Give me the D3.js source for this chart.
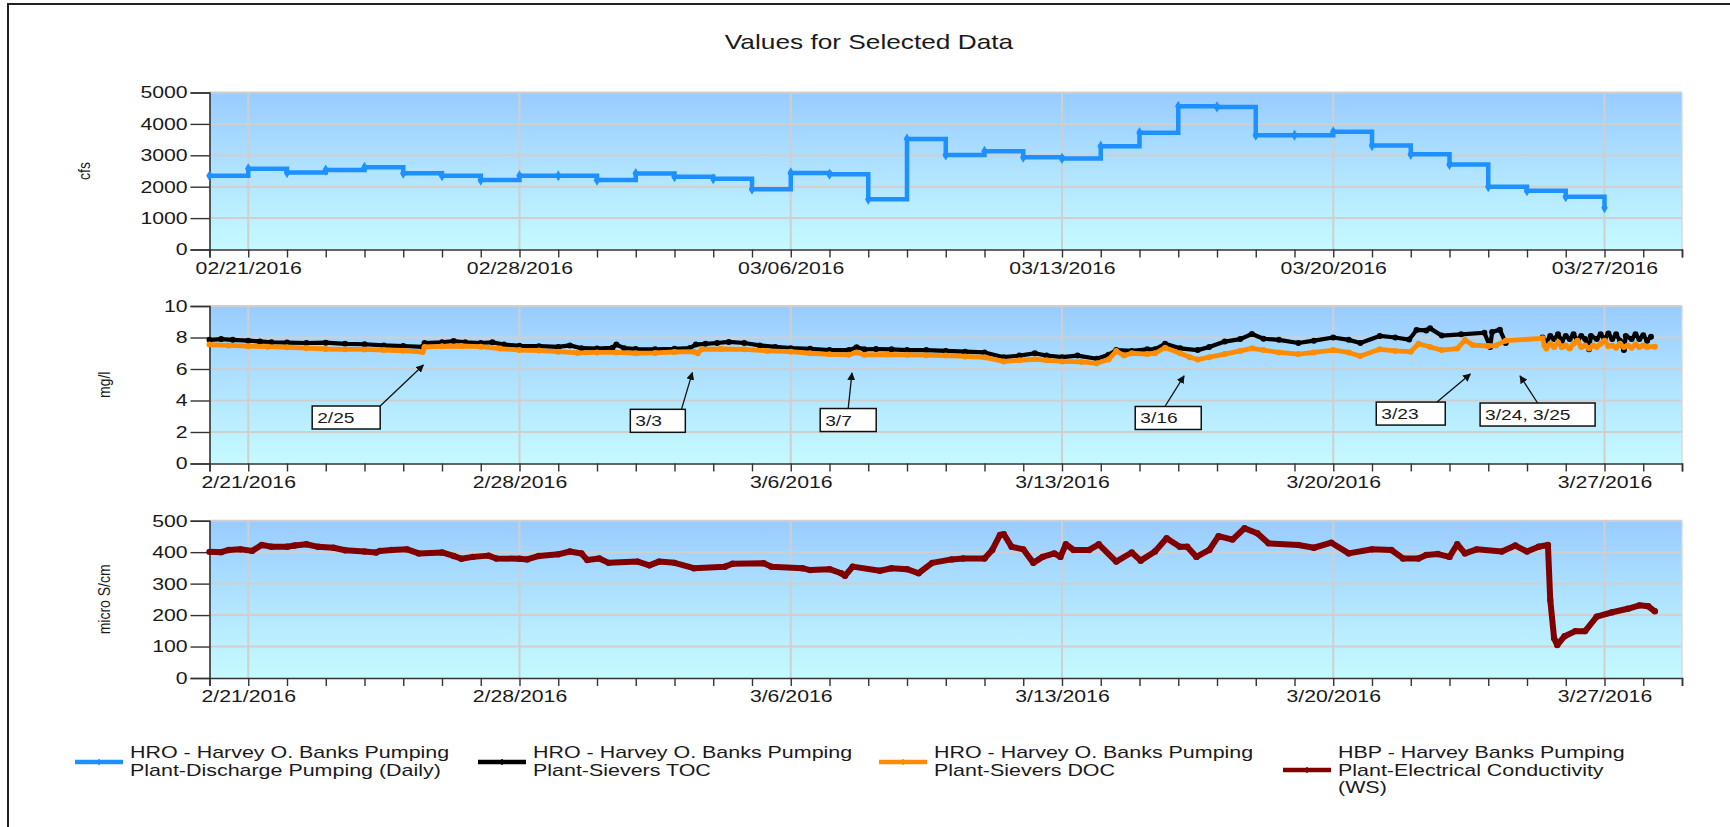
<!DOCTYPE html>
<html>
<head>
<meta charset="utf-8">
<script src="https://cdn.jsdelivr.net/npm/d3@7"></script>
<style>
  body { margin: 0; background: #fff; }
  text { font-family: "Liberation Sans", Arial, sans-serif; fill: #1a1a1a; }
</style>
</head>
<body>
<svg id="chart" width="1730" height="827"></svg>
<script>
/* Data: day offsets are days after 2016-02-20 00:00 */
const dischargeDays = d3.range(0, 37);
const dischargeCfs = [2350, 2570, 2450, 2530, 2620, 2430, 2350, 2210, 2350, 2350,
    2210, 2420, 2320, 2250, 1920, 2440, 2400, 1600, 3520, 3010,
    3130, 2940, 2900, 3290, 3720, 4560, 4540, 3640, 3640, 3750,
    3310, 3030, 2710, 2000, 1870, 1680, 1330];

const tocSeries = [
    [0, 7.85], [0.3, 7.9], [0.6, 7.85], [1, 7.8], [1.3, 7.75], [1.6, 7.7], [2, 7.68], [2.5, 7.65],
    [3, 7.67], [3.5, 7.6], [4, 7.57], [4.5, 7.5], [5, 7.46], [5.5, 7.4], [5.55, 7.65], [6, 7.7],
    [6.3, 7.78], [6.6, 7.7], [7, 7.65], [7.3, 7.7], [7.6, 7.55], [8, 7.47], [8.5, 7.45], [9, 7.4],
    [9.3, 7.5], [9.6, 7.32], [10, 7.3], [10.4, 7.35], [10.5, 7.55], [10.7, 7.32], [11, 7.27],
    [11.5, 7.25], [12, 7.28], [12.4, 7.33], [12.55, 7.55], [12.8, 7.6], [13.1, 7.65], [13.4, 7.72],
    [13.8, 7.65], [14.2, 7.5], [14.6, 7.4], [15, 7.32], [15.5, 7.28], [16, 7.2], [16.5, 7.2],
    [16.7, 7.38], [16.9, 7.25], [17.2, 7.27], [17.6, 7.25], [18, 7.2], [18.5, 7.2], [19, 7.15],
    [19.5, 7.1], [20, 7.05], [20.5, 6.75], [20.9, 6.85], [21.3, 7.0], [21.6, 6.85], [22, 6.75],
    [22.4, 6.85], [22.9, 6.65], [23.2, 6.9], [23.4, 7.2], [23.8, 7.15], [24.2, 7.25], [24.4, 7.25],
    [24.66, 7.6], [25.05, 7.31], [25.5, 7.2], [25.8, 7.4], [26.2, 7.74], [26.6, 7.9], [26.9, 8.22],
    [27.2, 7.92], [27.6, 7.85], [28.1, 7.65], [28.5, 7.8], [29, 8.0], [29.4, 7.85], [29.7, 7.65],
    [30.2, 8.1], [30.6, 8.0], [30.96, 7.87], [31.15, 8.48], [31.4, 8.45], [31.5, 8.58], [31.8, 8.12],
    [32.3, 8.2], [32.9, 8.3], [33.05, 7.4], [33.1, 8.35], [33.3, 8.5], [33.45, 7.65],
    [33.9, null],
    [34.4, 8.0], [34.5, 7.7], [34.6, 8.1], [34.7, 7.9], [34.8, 8.2], [34.9, 7.8], [35.0, 8.1],
    [35.1, 7.9], [35.2, 8.2], [35.3, 7.8], [35.4, 8.1], [35.5, 7.9], [35.6, 7.25], [35.65, 8.1],
    [35.8, 7.9], [35.9, 8.2], [36.0, 7.9], [36.1, 8.25], [36.2, 7.9], [36.3, 8.2], [36.4, 7.8],
    [36.5, 7.2], [36.55, 8.1], [36.7, 7.9], [36.8, 8.2], [36.9, 7.9], [37.0, 8.15], [37.1, 7.8],
    [37.2, 8.05]
];

const docSeries = [
    [0, 7.55], [0.5, 7.5], [1, 7.45], [1.5, 7.42], [2, 7.38], [2.5, 7.33], [3, 7.27], [3.5, 7.25],
    [4, 7.24], [4.5, 7.2], [5, 7.16], [5.5, 7.08], [5.55, 7.4], [6, 7.44], [6.5, 7.46], [7, 7.42],
    [7.5, 7.3], [8, 7.2], [8.5, 7.17], [9, 7.1], [9.5, 7.02], [10, 7.05], [10.5, 7.05], [11, 7.0],
    [11.5, 7.02], [12, 7.08], [12.5, 7.1], [12.6, 7.0], [12.7, 7.25], [13.2, 7.27], [13.8, 7.25],
    [14.4, 7.15], [15, 7.1], [15.5, 7.0], [16, 6.93], [16.5, 6.9], [16.7, 7.05], [16.9, 6.9],
    [17.5, 6.92], [18, 6.9], [18.5, 6.88], [19, 6.85], [19.5, 6.8], [20, 6.74], [20.5, 6.48],
    [20.9, 6.55], [21.3, 6.62], [21.6, 6.55], [22, 6.48], [22.5, 6.45], [22.9, 6.36], [23.2, 6.6],
    [23.4, 7.14], [23.6, 6.85], [23.8, 7.0], [24.2, 6.95], [24.4, 7.0], [24.66, 7.35], [25.05, 7.0],
    [25.3, 6.75], [25.5, 6.6], [25.8, 6.75], [26.2, 6.95], [26.6, 7.15], [26.9, 7.31], [27.2, 7.2],
    [27.6, 7.05], [28.1, 6.95], [28.5, 7.05], [29, 7.2], [29.4, 7.05], [29.7, 6.82], [30.2, 7.25],
    [30.6, 7.15], [31.0, 7.1], [31.2, 7.6], [31.5, 7.4], [31.8, 7.2], [32.2, 7.3], [32.4, 7.84],
    [32.6, 7.52], [33.0, 7.46], [33.2, 7.5], [33.45, 7.8],
    [34.4, 7.95], [34.45, 7.5], [34.5, 7.3], [34.6, 7.6], [34.7, 7.4], [34.8, 7.7], [34.9, 7.4],
    [35.0, 7.5], [35.1, 7.3], [35.2, 7.6], [35.3, 7.8], [35.4, 7.4], [35.5, 7.5], [35.6, 7.3],
    [35.7, 7.5], [35.8, 7.4], [35.9, 7.6], [36.0, 7.8], [36.1, 7.45], [36.2, 7.5], [36.3, 7.35],
    [36.4, 7.6], [36.5, 7.4], [36.6, 7.5], [36.7, 7.35], [36.8, 7.55], [36.9, 7.4], [37.0, 7.5],
    [37.1, 7.4], [37.3, 7.42]
];

const ecSeries = [
    [0, 401], [0.3, 400], [0.5, 407], [0.8, 409], [1.1, 404], [1.35, 423], [1.6, 417], [2, 417],
    [2.2, 421], [2.5, 425], [2.8, 417], [3.2, 414], [3.5, 406], [4, 402], [4.3, 399], [4.4, 404],
    [4.7, 407], [5.1, 409], [5.4, 396], [6, 399], [6.3, 388], [6.5, 379], [6.8, 385], [7.2, 389],
    [7.4, 380], [8, 379], [8.2, 377], [8.5, 388], [9, 393], [9.3, 402], [9.6, 396], [9.75, 375],
    [10.06, 380], [10.3, 366], [11.05, 370], [11.35, 358], [11.6, 370], [12, 366], [12.5, 349],
    [13.3, 354], [13.5, 363], [14.3, 365], [14.5, 354], [15.3, 349], [15.5, 343], [16, 346],
    [16.3, 333], [16.4, 325], [16.6, 354], [17.3, 341], [17.6, 349], [18, 346], [18.3, 333],
    [18.65, 366], [19.15, 377], [19.45, 380], [20.0, 380], [20.2, 407], [20.4, 455], [20.5, 457],
    [20.7, 417], [21, 409], [21.26, 366], [21.5, 385], [21.8, 396], [21.96, 385], [22.1, 425],
    [22.3, 407], [22.7, 407], [22.95, 425], [23.4, 370], [23.8, 399], [24.03, 373], [24.4, 402],
    [24.7, 444], [25.04, 417], [25.23, 417], [25.47, 385], [25.8, 407], [26.04, 451], [26.4, 440],
    [26.71, 476], [27.04, 460], [27.33, 428], [28.1, 423], [28.5, 414], [28.95, 430], [29.4, 396],
    [30, 409], [30.5, 407], [30.8, 380], [31.2, 380], [31.4, 391], [31.7, 394], [32.0, 385],
    [32.2, 425], [32.4, 396], [32.7, 409], [33.35, 402], [33.7, 421], [34.0, 402], [34.3, 417],
    [34.54, 423], [34.6, 248], [34.7, 126], [34.78, 105], [34.97, 133], [35.25, 149], [35.5, 149],
    [35.8, 195], [36.2, 209], [36.6, 220], [36.9, 231], [37.13, 228], [37.3, 212]
];

/* Annotation callouts on the TOC/DOC panel */
const noteLabels = ["2/25", "3/3", "3/7", "3/16", "3/23", "3/24, 3/25"];
const noteTipDay = [5.52, 12.46, 16.58, 25.15, 32.54, 33.82];
const noteTipVal = [6.25, 5.77, 5.75, 5.56, 5.68, 5.56];
const noteBoxDay = [2.65, 10.86, 15.76, 23.89, 30.11, 32.79];
const noteBoxVal = [3.65, 3.44, 3.49, 3.62, 3.9, 3.84];

/* Axis ticks */
const cfsTicks = [0, 1000, 2000, 3000, 4000, 5000];
const mglTicks = [0, 2, 4, 6, 8, 10];
const ecTicks = [0, 100, 200, 300, 400, 500];

const legendNames = [
    ["HRO - Harvey O. Banks Pumping", "Plant-Discharge Pumping (Daily)"],
    ["HRO - Harvey O. Banks Pumping", "Plant-Sievers TOC"],
    ["HRO - Harvey O. Banks Pumping", "Plant-Sievers DOC"],
    ["HBP - Harvey Banks Pumping", "Plant-Electrical Conductivity", "(WS)"]
];
const seriesColors = ["#1E90FF", "#000000", "#FF8C00", "#800000"];

/* Setup */
const t0 = Date.UTC(2016, 1, 20);
const toDate = d => new Date(t0 + d * 864e5);

const svg = d3.select("#chart");
const x = d3.scaleUtc()
    .domain([new Date(t0), new Date(Date.UTC(2016, 2, 29))])
    .range([209.5, 1682]);

const defs = svg.append("defs");
const grad = defs.append("linearGradient")
    .attr("id", "bg").attr("x1", 0).attr("y1", 0).attr("x2", 0).attr("y2", 1);
grad.append("stop").attr("offset", "0%").attr("stop-color", "#99CCFF");
grad.append("stop").attr("offset", "100%").attr("stop-color", "#C6FAFF");
defs.append("marker")
    .attr("id", "arrow").attr("viewBox", "0 0 10 10")
    .attr("refX", 9).attr("refY", 5)
    .attr("markerWidth", 8).attr("markerHeight", 8)
    .attr("markerUnits", "userSpaceOnUse")
    .attr("orient", "auto")
  .append("path").attr("d", "M0,0 L10,5 L0,10 z").attr("fill", "#111");

/* frame */
svg.append("path")
    .attr("d", "M8,830 L8,4 L1735,4")
    .attr("fill", "none").attr("stroke", "#222").attr("stroke-width", 2);

function addText(g, px, py, str, size, sx, anchor) {
    return g.append("text")
        .attr("transform", `translate(${px},${py}) scale(${sx},1)`)
        .attr("text-anchor", anchor || "start")
        .style("font-size", size + "px")
        .text(str);
}

addText(svg, 869, 49, "Values for Selected Data", 21, 1.25, "middle");

const TICK_SX = 1.25;

function drawPanel(cfg) {
    const y = d3.scaleLinear().domain(cfg.domain).range([cfg.bottom, cfg.top]);
    const g = svg.append("g");
    const x0 = x.range()[0], x1 = x.range()[1];

    g.append("rect")
        .attr("x", x0).attr("y", cfg.top)
        .attr("width", x1 - x0).attr("height", cfg.bottom - cfg.top)
        .attr("fill", "url(#bg)");

    /* gridlines */
    g.append("g").selectAll("line")
        .data(cfg.ticks.slice(1))
        .join("line")
        .attr("x1", x0).attr("x2", x1)
        .attr("y1", d => y(d)).attr("y2", d => y(d))
        .attr("stroke", "#CFCFCF").attr("stroke-width", 2);
    g.append("g").selectAll("line")
        .data(x.ticks(d3.utcSunday))
        .join("line")
        .attr("x1", d => x(d)).attr("x2", d => x(d))
        .attr("y1", cfg.top).attr("y2", cfg.bottom)
        .attr("stroke", "#CFCFCF").attr("stroke-width", 2);
    g.append("line")
        .attr("x1", x1).attr("x2", x1).attr("y1", cfg.top).attr("y2", cfg.bottom)
        .attr("stroke", "#D8D8D8").attr("stroke-width", 1.5);

    /* axes */
    const xa = g.append("g")
        .attr("transform", `translate(0,${cfg.bottom})`)
        .call(d3.axisBottom(x)
            .ticks(d3.utcDay.every(1))
            .tickSize(8).tickPadding(4)
            .tickFormat(d => d.getUTCDay() === 0 ? cfg.fmt(d) : ""));
    const ya = g.append("g")
        .attr("transform", `translate(${x0},0)`)
        .call(d3.axisLeft(y).tickValues(cfg.ticks).tickFormat(d3.format("d"))
            .tickSize(19).tickPadding(0));
    [xa, ya].forEach(a => {
        a.select(".domain").attr("stroke", "#333").attr("stroke-width", 1.6);
        a.selectAll(".tick line").attr("stroke", "#333").attr("stroke-width", 1.4);
        a.selectAll(".tick text")
            .style("font-size", "17px").attr("fill", "#1a1a1a")
            .attr("transform", `scale(${TICK_SX},1)`);
    });
    ya.selectAll(".tick text").attr("x", -17.5);

    /* axis title */
    g.append("text")
        .attr("transform", `translate(${cfg.titleX},${(cfg.top + cfg.bottom) / 2}) scale(1.15,1) rotate(-90)`)
        .attr("text-anchor", "middle")
        .style("font-size", "14px")
        .text(cfg.title);

    return { g, y };
}

function drawSeries(panel, pts, color, width, r) {
    const data = pts.map(p => ({ t: toDate(p[0]), v: p[1] }));
    const line = d3.line()
        .defined(d => d.v != null)
        .x(d => x(d.t)).y(d => panel.y(d.v));
    panel.g.append("path")
        .datum(data)
        .attr("d", line)
        .attr("fill", "none").attr("stroke", color)
        .attr("stroke-width", width).attr("stroke-linejoin", "round");
    panel.g.append("g").selectAll("circle")
        .data(data.filter(d => d.v != null))
        .join("circle")
        .attr("cx", d => x(d.t)).attr("cy", d => panel.y(d.v))
        .attr("r", r).attr("fill", color);
}

/* Panel 1: discharge (step line) */
const p1 = drawPanel({ domain: [0, 5000], ticks: cfsTicks, top: 92.5, bottom: 249.5,
    fmt: d3.utcFormat("%m/%d/%Y"), title: "cfs", titleX: 90 });
const flow = dischargeDays.map((d, i) => ({ t: toDate(d), v: dischargeCfs[i] }));
p1.g.append("path")
    .datum(flow)
    .attr("d", d3.line().curve(d3.curveStepAfter).x(d => x(d.t)).y(d => p1.y(d.v)))
    .attr("fill", "none").attr("stroke", seriesColors[0]).attr("stroke-width", 4.5);
p1.g.append("g").selectAll("path")
    .data(flow)
    .join("path")
    .attr("transform", d => `translate(${x(d.t)},${p1.y(d.v)})`)
    .attr("d", d3.symbol(d3.symbolDiamond, 36))
    .attr("fill", seriesColors[0]);

/* Panel 2: TOC / DOC */
const fmtShort = d => `${d.getUTCMonth() + 1}/${d.getUTCDate()}/${d.getUTCFullYear()}`;
const p2 = drawPanel({ domain: [0, 10], ticks: mglTicks, top: 306, bottom: 463.5,
    fmt: fmtShort, title: "mg/l", titleX: 110 });
drawSeries(p2, tocSeries, seriesColors[1], 4.2, 3);
drawSeries(p2, docSeries, seriesColors[2], 4.8, 3);

const noteBoxW = [68, 55, 56, 66, 69, 115];
const noteAttach = [1, 0.93, 0.5, 0.45, 0.88, 0.5];
noteLabels.forEach((lab, i) => {
    const bx = x(toDate(noteBoxDay[i]));
    const by = p2.y(noteBoxVal[i]);
    const w = noteBoxW[i];
    const g = p2.g.append("g");
    g.append("rect")
        .attr("x", bx).attr("y", by).attr("width", w).attr("height", 23)
        .attr("fill", "#fff").attr("stroke", "#111").attr("stroke-width", 1.5);
    addText(g, bx + 5, by + 17, lab, 15, 1.28);
    const tx = x(toDate(noteTipDay[i])), ty = p2.y(noteTipVal[i]);
    g.append("line")
        .attr("x1", bx + w * noteAttach[i]).attr("y1", by)
        .attr("x2", tx).attr("y2", ty)
        .attr("stroke", "#111").attr("stroke-width", 1.3)
        .attr("marker-end", "url(#arrow)");
});

/* Panel 3: electrical conductivity */
const p3 = drawPanel({ domain: [0, 500], ticks: ecTicks, top: 520.7, bottom: 678,
    fmt: fmtShort, title: "micro S/cm", titleX: 110 });
drawSeries(p3, ecSeries, seriesColors[3], 6, 3.2);

/* Legend */
const legendX = [75, 478, 879, 1283];
legendNames.forEach((lines, i) => {
    const g = svg.append("g").attr("transform", `translate(${legendX[i]},0)`);
    const cy = 762 + (lines.length - 2) * 8;
    g.append("line")
        .attr("x1", 0).attr("x2", 48).attr("y1", cy).attr("y2", cy)
        .attr("stroke", seriesColors[i]).attr("stroke-width", 4.5);
    g.append("line")
        .attr("x1", 24).attr("x2", 24).attr("y1", cy - 3).attr("y2", cy + 3)
        .attr("stroke", seriesColors[i]).attr("stroke-width", 1.5);
    lines.forEach((s, j) => addText(g, 55, 758 + j * 17.5, s, 16, 1.34));
});
</script>
</body>
</html>
